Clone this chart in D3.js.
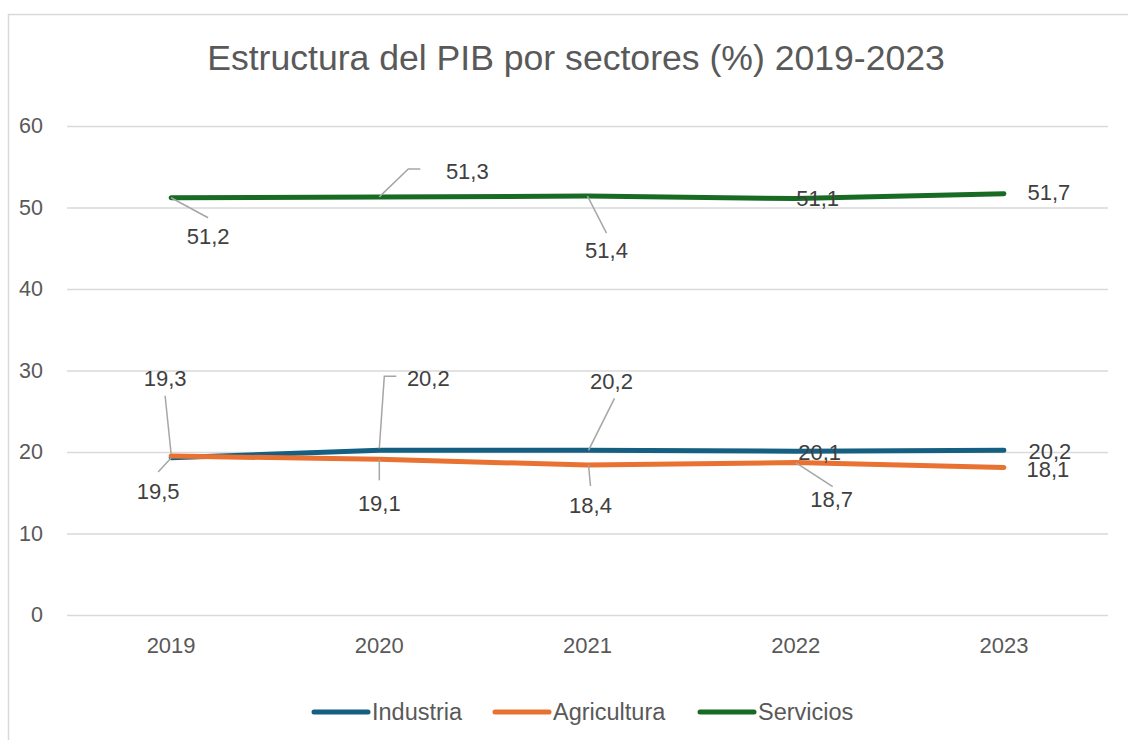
<!DOCTYPE html>
<html><head><meta charset="utf-8">
<script src="https://cdn.jsdelivr.net/npm/d3@7"></script>
<style>html,body{margin:0;padding:0;background:#fff;}svg{display:block;font-family:"Liberation Sans",Arial,sans-serif;}</style>
</head><body>
<svg id="c" width="1128" height="740"></svg>
<script>
const years = ["2019","2020","2021","2022","2023"];
const seriesNames = ["Industria","Agricultura","Servicios"];
const industria = [19.3, 20.2, 20.2, 20.1, 20.2];
const agricultura = [19.5, 19.1, 18.4, 18.7, 18.1];
const servicios = [51.2, 51.3, 51.4, 51.1, 51.7];
const yTicks = [0, 10, 20, 30, 40, 50, 60];
const colors = ["#156082", "#E97132", "#196B24"];

// label layout: text offset from point [dx,dy], leader polyline offsets
const labelLayout = {
  Industria: [
    {dx:-6, dy:-79, lead:[[0,-4],[-6,-62]]},
    {dx:49, dy:-72, lead:[[0,-2],[5,-74],[17,-74]]},
    {dx:24, dy:-69, lead:[[1,0],[27,-52]]},
    {dx:24, dy:1, lead:null},
    {dx:46, dy:1, lead:null}
  ],
  Agricultura: [
    {dx:-13, dy:35, lead:[[0,2],[-13,16]]},
    {dx:0, dy:44, lead:[[0,0],[0,21]]},
    {dx:3, dy:40, lead:[[1,0],[3,21]]},
    {dx:36, dy:37, lead:[[0,0],[37,24]]},
    {dx:44, dy:2, lead:null}
  ],
  Servicios: [
    {dx:37, dy:39, lead:[[0,0],[37,20]]},
    {dx:88, dy:-25, lead:[[0,0],[29,-28],[41,-28]]},
    {dx:19, dy:54, lead:[[0,0],[19,37]]},
    {dx:22, dy:0, lead:null},
    {dx:45, dy:-1, lead:null}
  ]
};

const svg = d3.select("#c");
svg.append("rect").attr("x",8.5).attr("y",14.5).attr("width",1140).attr("height",760)
  .attr("fill","#fff").attr("stroke","#d9d9d9").attr("stroke-width",1.5);

svg.append("text").attr("x",576).attr("y",70).attr("text-anchor","middle")
  .attr("font-size",35.6).attr("fill","#595959").text("Estructura del PIB por sectores (%) 2019-2023");

const x = d3.scaleBand().domain(years).range([67,1108]);
const y = d3.scaleLinear().domain([0,60]).range([615,126]);
const cx = d => x(d) + x.bandwidth()/2;

// grid
const yAxis = d3.axisLeft(y).tickValues(yTicks).tickSize(-(1108-67)).tickPadding(24);
const gy = svg.append("g").attr("transform","translate(67,0)").call(yAxis);
gy.select(".domain").remove();
gy.selectAll(".tick line").attr("stroke","#d9d9d9").attr("stroke-width",1.5);
gy.selectAll(".tick text").attr("fill","#595959").attr("font-size",21.5).attr("font-family","'Liberation Sans',Arial,sans-serif");

const xAxis = d3.axisBottom(x).tickSize(0);
const gx = svg.append("g").attr("transform","translate(0,615)").call(xAxis);
gx.select(".domain").remove();
gx.selectAll(".tick text").attr("y",38).attr("dy",0).attr("fill","#595959").attr("font-size",22).attr("font-family","'Liberation Sans',Arial,sans-serif");

const data = [industria, agricultura, servicios];
const line = d3.line().x((d,i)=>cx(years[i])).y(d=>y(d));

data.forEach((vals,si)=>{
  svg.append("path").datum(vals).attr("d",line).attr("fill","none")
    .attr("stroke",colors[si]).attr("stroke-width",5).attr("stroke-linecap","round").attr("stroke-linejoin","round");
});

data.forEach((vals,si)=>{
  const lay = labelLayout[seriesNames[si]];
  vals.forEach((v,i)=>{
    const px = cx(years[i]), py = y(v);
    const L = lay[i];
    if (L.lead) {
      svg.append("polyline").attr("points", L.lead.map(p=>(px+p[0])+","+(py+p[1])).join(" "))
        .attr("fill","none").attr("stroke","#a6a6a6").attr("stroke-width",1.5);
    }
    svg.append("text").attr("x",px+L.dx).attr("y",py+L.dy).attr("text-anchor","middle")
      .attr("dominant-baseline","central").attr("font-size",22).attr("fill","#404040")
      .text(d3.format(".1f")(v).replace(".",","));
  });
});

// legend
const legX = [312, 493, 698];
seriesNames.forEach((n,i)=>{
  const g = svg.append("g").attr("transform",`translate(${legX[i]},712)`);
  g.append("line").attr("x1",2).attr("x2",56).attr("y1",0).attr("y2",0)
    .attr("stroke",colors[i]).attr("stroke-width",5).attr("stroke-linecap","round");
  g.append("text").attr("x",60).attr("y",0).attr("dominant-baseline","central")
    .attr("font-size",23.5).attr("fill","#595959").text(n);
});
</script>
</body></html>
